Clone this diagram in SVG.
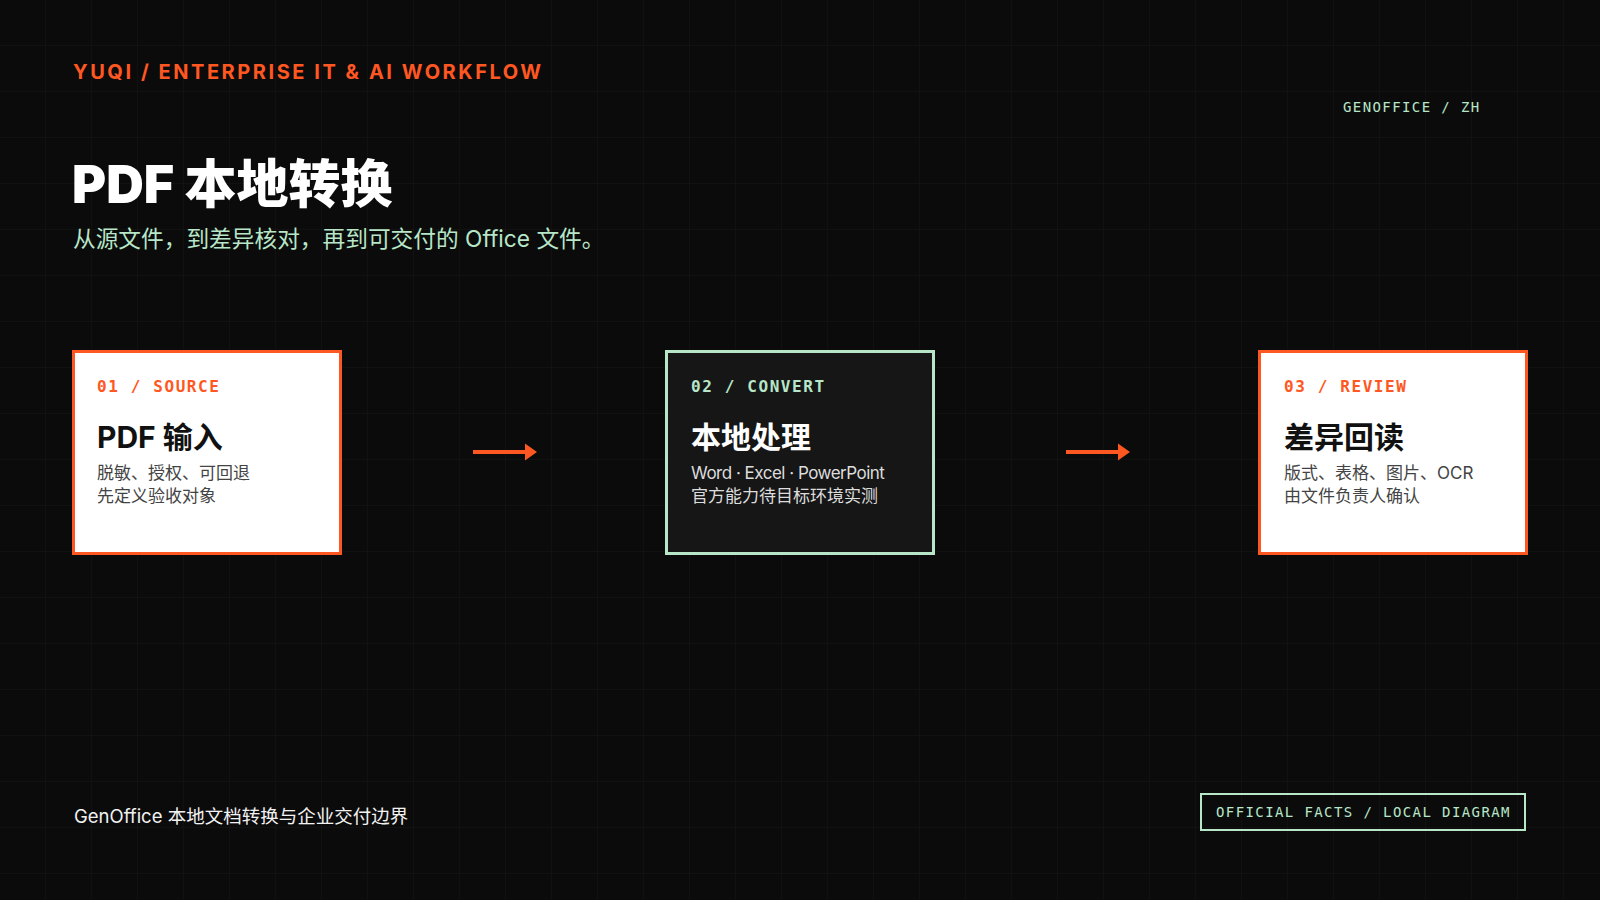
<svg xmlns="http://www.w3.org/2000/svg" width="1600" height="900" viewBox="0 0 1600 900">
  <defs>
    <pattern id="grid" width="46" height="46" patternUnits="userSpaceOnUse">
      <path d="M46 0 V46 M0 46 H46" fill="none" stroke="#151515" stroke-width="1"/>
    </pattern>
    <style>
      .sans { font-family: Inter, "Noto Sans CJK SC", sans-serif; }
      .mono { font-family: "DejaVu Sans Mono", "Liberation Mono", monospace; }
      .kicker { font-size: 20px; font-weight: 700; fill: #ff5722; letter-spacing: 2.55px; }
      .tag { font-size: 14px; fill: #b8e6c8; letter-spacing: 1.4px; }
      .title { font-size: 52px; font-weight: 900; fill: #ffffff; }
      .subtitle { font-size: 22.7px; fill: #b8e6c8; }
      .label { font-size: 16px; font-weight: 700; letter-spacing: 1.6px; }
      .ntitle { font-size: 30px; font-weight: 700; }
      .body { font-size: 17px; }
      .latin { letter-spacing: -0.5px; }
      .card-light { fill: #ffffff; stroke: #ff5722; stroke-width: 3; }
      .card-dark { fill: #161616; stroke: #b8e6c8; stroke-width: 3; }
      .conn { stroke: #ff5722; stroke-width: 4; fill: none; }
      .head { fill: #ff5722; }
    </style>
  </defs>
  <rect width="1600" height="900" fill="#0b0b0b"/>
  <rect width="1600" height="900" fill="url(#grid)"/>

  <text class="sans kicker" x="73" y="79">YUQI / ENTERPRISE IT &amp; AI WORKFLOW</text>
  <text class="mono tag" x="1343" y="112">GENOFFICE / ZH</text>
  <text class="sans title" x="72" y="203">PDF 本地转换</text>
  <text class="sans subtitle" x="73" y="247">从源文件，到差异核对，再到可交付的 Office 文件。</text>

  <g id="node-source">
    <rect class="card-light" x="73.5" y="351.5" width="267" height="202"/>
    <text class="mono label" x="97" y="392" fill="#ff5722">01 / SOURCE</text>
    <text class="sans ntitle" x="97" y="448" fill="#111111">PDF 输入</text>
    <text class="sans body" x="97" y="479" fill="#444444">脱敏、授权、可回退</text>
    <text class="sans body" x="97" y="502" fill="#444444">先定义验收对象</text>
  </g>

  <g id="node-convert">
    <rect class="card-dark" x="666.5" y="351.5" width="267" height="202"/>
    <text class="mono label" x="691" y="392" fill="#b8e6c8">02 / CONVERT</text>
    <text class="sans ntitle" x="691" y="448" fill="#ffffff">本地处理</text>
    <text class="sans body latin" x="691" y="479" fill="#dddddd">Word · Excel · PowerPoint</text>
    <text class="sans body" x="691" y="502" fill="#dddddd">官方能力待目标环境实测</text>
  </g>

  <g id="node-review">
    <rect class="card-light" x="1259.5" y="351.5" width="267" height="202"/>
    <text class="mono label" x="1284" y="392" fill="#ff5722">03 / REVIEW</text>
    <text class="sans ntitle" x="1284" y="448" fill="#111111">差异回读</text>
    <text class="sans body" x="1284" y="479" fill="#444444">版式、表格、图片、OCR</text>
    <text class="sans body" x="1284" y="502" fill="#444444">由文件负责人确认</text>
  </g>

  <g id="connectors">
    <line class="conn" x1="473" y1="452" x2="527" y2="452"/>
    <polygon class="head" points="525,443.5 537,452 525,460.5"/>
    <line class="conn" x1="1066" y1="452" x2="1120" y2="452"/>
    <polygon class="head" points="1118,443.5 1130,452 1118,460.5"/>
  </g>

  <text class="sans" x="74" y="823" font-size="18.5" fill="#f2f2f2">GenOffice 本地文档转换与企业交付边界</text>
  <g id="footer-tag">
    <rect x="1201" y="794" width="324" height="36" fill="none" stroke="#b8e6c8" stroke-width="2"/>
    <text class="mono tag" x="1216" y="817">OFFICIAL FACTS / LOCAL DIAGRAM</text>
  </g>
</svg>
